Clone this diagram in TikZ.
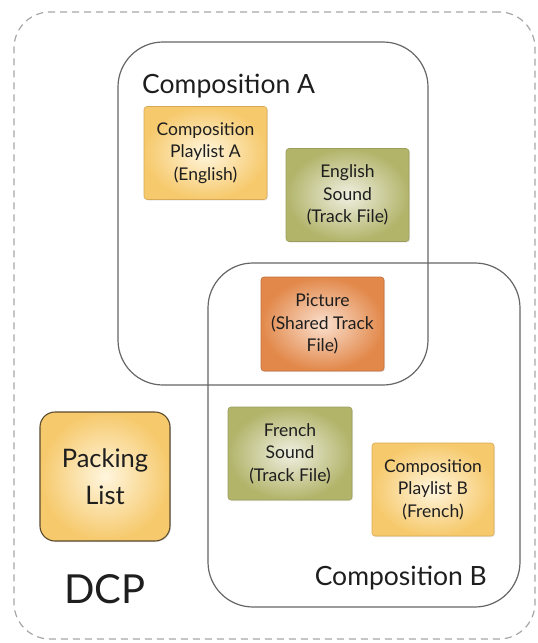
\documentclass[tikz,border=0pt]{standalone}
\usepackage{fontspec}
\setmainfont{Lato}
\usetikzlibrary{shadows}
\definecolor{txt}{HTML}{1E1E1E}
\definecolor{yelOut}{HTML}{F6C96C}
\definecolor{yelIn}{HTML}{FFF6DE}
\definecolor{yelBd}{HTML}{D8AA58}
\definecolor{olvOut}{HTML}{B2B46A}
\definecolor{olvIn}{HTML}{F0F0E2}
\definecolor{olvBd}{HTML}{9C9E5E}
\definecolor{orgOut}{HTML}{E2884A}
\definecolor{orgIn}{HTML}{FAE0CE}
\definecolor{orgBd}{HTML}{C4703C}
\definecolor{pkBd}{HTML}{5A4A2E}
\tikzset{
  filebox/.style={rectangle, rounded corners=3pt, minimum width=123pt, minimum height=93pt,
    inner sep=0pt, align=center, text=txt, line width=0.6pt,
    font=\fontsize{17.5}{22.5}\selectfont,
    drop shadow={shadow xshift=1pt, shadow yshift=-1pt, opacity=0.18}},
  yelbox/.style={filebox, draw=yelBd, inner color=yelIn, outer color=yelOut},
  olvbox/.style={filebox, draw=olvBd, inner color=olvIn, outer color=olvOut},
  orgbox/.style={filebox, draw=orgBd, inner color=orgIn, outer color=orgOut},
  compbox/.style={rectangle, rounded corners=45pt, draw=black!60, line width=1.2pt,
    inner sep=0pt, outer sep=0pt},
  biglabel/.style={text=txt, inner sep=0pt, font=\fontsize{26.5}{30}\selectfont},
}
\begin{document}
\begin{tikzpicture}[x=1pt,y=-1pt]
\useasboundingbox (0,0) rectangle (538,643);
% outer DCP boundary
\node[rectangle, rounded corners=36pt, draw=black!35, line width=1.2pt,
      dash pattern=on 7pt off 5pt, minimum width=521pt, minimum height=627pt,
      inner sep=0pt] (dcp) at (274.5,325.5) {};
% composition boxes
\node[compbox, minimum width=310pt, minimum height=343pt] (compA) at (273,213.5) {};
\node[compbox, minimum width=312pt, minimum height=344pt] (compB) at (364,435) {};
\node[biglabel, anchor=base west] (labA) at (142,93) {Composition A};
\node[biglabel, anchor=base east] (labB) at (487,585) {Composition B};
% files
\node[yelbox] (cplA) at (205.5,153) {Composition\\Playlist A\\(English)};
\node[olvbox] (engS) at (347.5,195) {English\\Sound\\(Track File)};
\node[orgbox, minimum height=94pt] (pic) at (322.5,324) {Picture\\(Shared Track\\File)};
\node[olvbox, minimum width=124pt] (frS) at (290,453.5) {French\\Sound\\(Track File)};
\node[yelbox, minimum width=122pt] (cplB) at (433,489.5) {Composition\\Playlist B\\(French)};
\node[rectangle, rounded corners=15pt, draw=pkBd, line width=1.1pt,
      inner color=yelIn, outer color=yelOut, minimum width=130pt, minimum height=129pt,
      inner sep=0pt, align=center, text=txt, font=\fontsize{25.5}{37}\selectfont,
      drop shadow={shadow xshift=1pt, shadow yshift=-1pt, opacity=0.18}]
      (pkl) at (105,476.5) {Packing\\List};
\node[text=txt, inner sep=0pt, anchor=base west, font=\fontsize{40}{44}\selectfont]
      (dcplab) at (64,603) {DCP};
\end{tikzpicture}
\end{document}
